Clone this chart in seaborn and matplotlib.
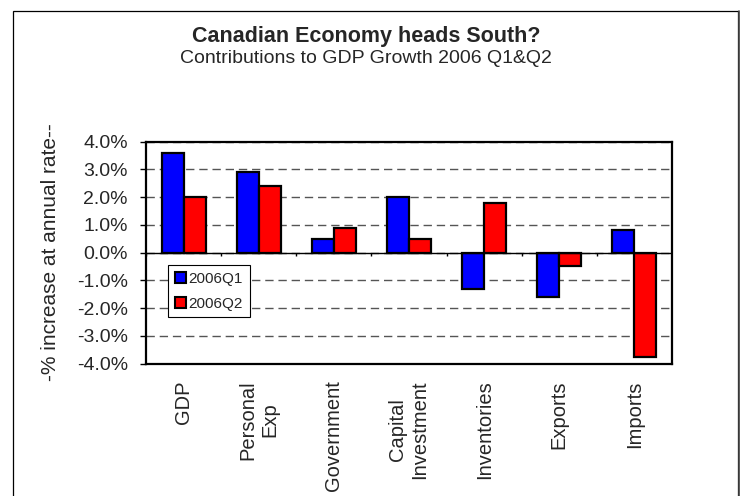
import matplotlib
matplotlib.use("Agg")
import matplotlib.pyplot as plt
from matplotlib.patches import Rectangle
from matplotlib.lines import Line2D
from matplotlib.ticker import FuncFormatter
import numpy as np
import pandas as pd
import seaborn as sns

# Contributions to GDP growth, % at annual rate
categories = ["GDP", "Personal\nExp", "Government", "Capital\nInvestment",
              "Inventories", "Exports", "Imports"]
q1_values = [3.6, 2.9, 0.5, 2.0, -1.3, -1.6, 0.8]
q2_values = [2.0, 2.4, 0.9, 0.5, 1.8, -0.5, -3.75]
series_names = ["2006Q1", "2006Q2"]
y_ticks = [-4, -3, -2, -1, 0, 1, 2, 3, 4]

df = pd.DataFrame({
    "component": categories * 2,
    "value": q1_values + q2_values,
    "quarter": [series_names[0]] * len(categories) + [series_names[1]] * len(categories),
})

sns.set_theme(style="white")
plt.rcParams["font.family"] = ["Liberation Sans", "DejaVu Sans"]

W, H = 743, 496
fig = plt.figure(figsize=(W / 100, H / 100), dpi=100)
fig.patch.set_facecolor("white")

ax_l, ax_r, ax_t, ax_b = 146, 672, 141.5, 363.5
ax = fig.add_axes([ax_l / W, 1 - ax_b / H, (ax_r - ax_l) / W, (ax_b - ax_t) / H])

sns.barplot(data=df, x="component", y="value", hue="quarter",
            order=categories, hue_order=series_names,
            palette=["#0000FF", "#FF0000"], saturation=1,
            width=0.585, edgecolor="black", linewidth=1.6, ax=ax)

ax.set_xlim(-0.5, len(categories) - 0.5)
ax.set_ylim(y_ticks[0], y_ticks[-1])
ax.set_yticks(y_ticks)
ax.yaxis.set_major_formatter(FuncFormatter(lambda v, _: f"{v:.1f}%"))

# dashed grid behind the bars, solid zero line on top
ax.set_axisbelow(True)
ax.yaxis.grid(True, linestyle=(0, (6, 3.5)), color="#555555", linewidth=1)
ax.xaxis.grid(False)
ax.axhline(0, color="black", linewidth=1, zorder=3)
bounds = np.arange(len(categories) + 1) - 0.5
ax.vlines(bounds, -0.14, 0, color="black", linewidth=1, zorder=3)

for s in ax.spines.values():
    s.set_visible(True)
    s.set_color("black")
    s.set_linewidth(1.6)

ax.tick_params(axis="y", which="major", direction="out", length=4, width=1,
               color="black", labelsize=14, pad=9, left=True)
ax.tick_params(axis="x", length=0, pad=12, labelsize=14.5)
for lbl in ax.get_xticklabels():
    lbl.set_rotation(90)
    lbl.set_ha("center")
    lbl.set_va("top")
    lbl.set_multialignment("center")

ax.set_xlabel("")
ax.set_ylabel("-% increase at annual rate--", fontsize=15, va="center", ha="center")
ax.yaxis.set_label_coords((51 - ax_l) / (ax_r - ax_l), 0.5)

leg = ax.legend(loc="upper left", bbox_to_anchor=(168 / W, 1 - 265 / H),
                bbox_transform=fig.transFigure, borderaxespad=0,
                fontsize=11, frameon=True, fancybox=False, shadow=False,
                handlelength=0.7, handleheight=0.7, handletextpad=0.2,
                labelspacing=0.7, borderpad=0.45, title=None)
leg.get_frame().set_edgecolor("black")
leg.get_frame().set_linewidth(0.8)
leg.get_frame().set_facecolor("white")
leg.get_frame().set_alpha(1)
for h in leg.legend_handles:
    h.set_edgecolor("black")
    h.set_linewidth(1.5)

fig.text(366 / W, 1 - 42 / H, "Canadian Economy heads South?",
         ha="center", va="baseline", fontsize=15.5, fontweight="bold")
fig.text(366 / W, 1 - 63 / H, "Contributions to GDP Growth 2006 Q1&Q2",
         ha="center", va="baseline", fontsize=14)

# chart-area border
fig.add_artist(Rectangle((12.5 / W, -0.1), (737.5 - 12.5) / W, 1.1 - 10.5 / H,
                         transform=fig.transFigure, fill=False,
                         edgecolor="black", linewidth=0.9))
fig.add_artist(Line2D([738.5 / W, 738.5 / W], [-0.1, 1 - 10.5 / H],
                      transform=fig.transFigure, color="#444444", linewidth=1.2))

fig.savefig("out.png", dpi=100, facecolor="white")
